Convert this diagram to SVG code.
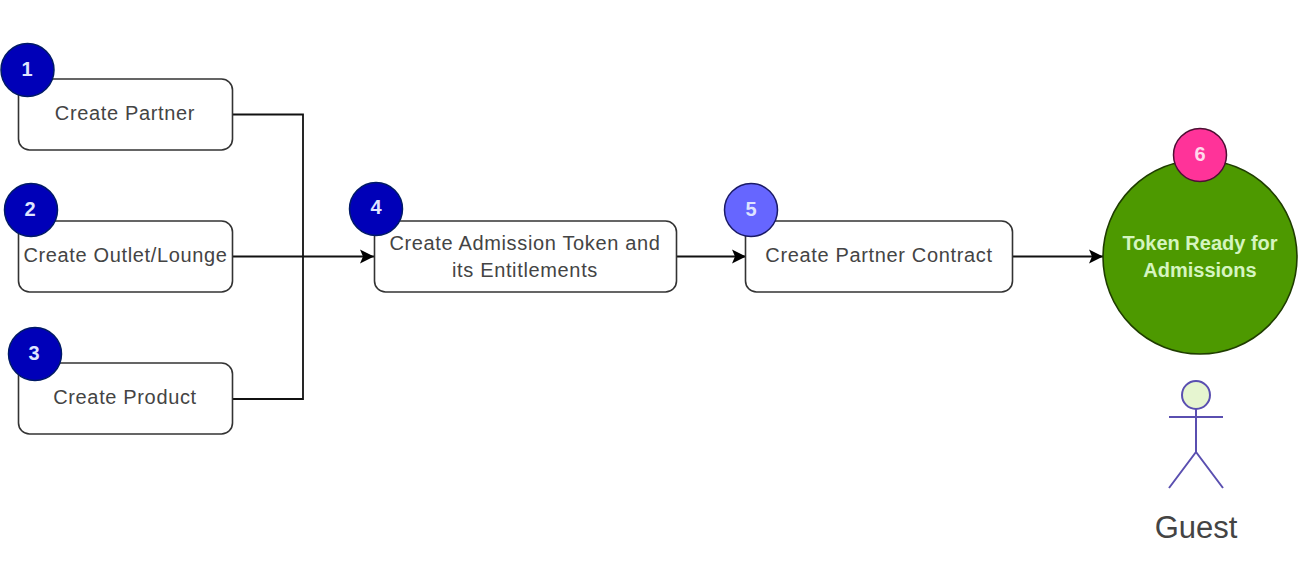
<svg xmlns="http://www.w3.org/2000/svg" width="1300" height="576" viewBox="0 0 1300 576">
<defs>
<marker id="arrow" markerUnits="userSpaceOnUse" markerWidth="16" markerHeight="16" refX="14" refY="8" orient="auto">
<path d="M0 1 L14 8 L0 15 L3 8 Z" fill="#000"/>
</marker>
</defs>
<style>
.box{fill:#fff;stroke:#333;stroke-width:1.6}
.t{font-family:"Liberation Sans",Arial,sans-serif;font-size:20px;fill:#444;text-anchor:middle;letter-spacing:.65px}
.n{font-family:"Liberation Sans",Arial,sans-serif;font-size:20px;font-weight:bold;text-anchor:middle;fill:#dfe4ff}
.badge{fill:#0000b8;stroke:#001a66;stroke-width:1.5}
.c{fill:none;stroke:#111;stroke-width:1.8}
</style>
<rect width="1300" height="576" fill="#fff"/>
<g id="connectors">
<path class="c" d="M232 114.500H303V256.500"/>
<path class="c" d="M232 399H303V256.500"/>
<path class="c" d="M232 256.500H374" marker-end="url(#arrow)"/>
<path class="c" d="M677 256.500H746" marker-end="url(#arrow)"/>
<path class="c" d="M1013 256.500H1103" marker-end="url(#arrow)"/>
</g>
<g id="node1"><rect class="box" x="18.500" y="79" width="214" height="71" rx="11"/><text class="t" x="125" y="120">Create Partner</text></g>
<g id="badge1"><circle class="badge" cx="27.500" cy="70" r="26.500"/><text class="n" x="27" y="76">1</text></g>
<g id="node2"><rect class="box" x="18.500" y="221" width="214" height="71" rx="11"/><text class="t" x="125.500" y="262">Create Outlet/Lounge</text></g>
<g id="badge2"><circle class="badge" cx="31" cy="210" r="26.500"/><text class="n" x="30" y="216">2</text></g>
<g id="node3"><rect class="box" x="18.500" y="363" width="214" height="71" rx="11"/><text class="t" x="125" y="404">Create Product</text></g>
<g id="badge3"><circle class="badge" cx="35" cy="354" r="26.500"/><text class="n" x="34" y="360">3</text></g>
<g id="node4"><rect class="box" x="374.500" y="221" width="302" height="71" rx="11"/><text class="t" x="525" y="250">Create Admission Token and</text><text class="t" x="525" y="277">its Entitlements</text></g>
<g id="badge4"><circle class="badge" cx="376" cy="209" r="26.500"/><text class="n" x="376" y="214">4</text></g>
<g id="node5"><rect class="box" x="745.500" y="221" width="267" height="71" rx="11"/><text class="t" x="879" y="262">Create Partner Contract</text></g>
<g id="badge5"><circle cx="751" cy="210" r="26.500" fill="#6666ff" stroke="#1a1a66" stroke-width="1.5"/><text class="n" x="751" y="216">5</text></g>
<g id="node6"><circle cx="1200" cy="257" r="97" fill="#4d9900" stroke="#1f3d00" stroke-width="1.6"/><text x="1200" y="250" font-family="'Liberation Sans',Arial,sans-serif" font-size="20" font-weight="bold" fill="#d5f5c0" text-anchor="middle">Token Ready for</text><text x="1200" y="277" font-family="'Liberation Sans',Arial,sans-serif" font-size="20" font-weight="bold" fill="#d5f5c0" text-anchor="middle">Admissions</text></g>
<g id="badge6"><circle cx="1200" cy="155" r="26.500" fill="#ff3399" stroke="#4d0f33" stroke-width="1.5"/><text x="1200" y="161" font-family="'Liberation Sans',Arial,sans-serif" font-size="20" font-weight="bold" fill="#ffd9ec" text-anchor="middle">6</text></g>
<g id="guest">
<circle cx="1196" cy="395" r="14" fill="#e6f5d0" stroke="#5a4fb0" stroke-width="2"/>
<path d="M1196 409V452M1169 417H1223M1196 452L1169 488M1196 452L1223 488" fill="none" stroke="#5a4fb0" stroke-width="2"/>
<text x="1196" y="538" font-family="'Liberation Sans',Arial,sans-serif" font-size="31" fill="#444" text-anchor="middle">Guest</text>
</g>
</svg>
